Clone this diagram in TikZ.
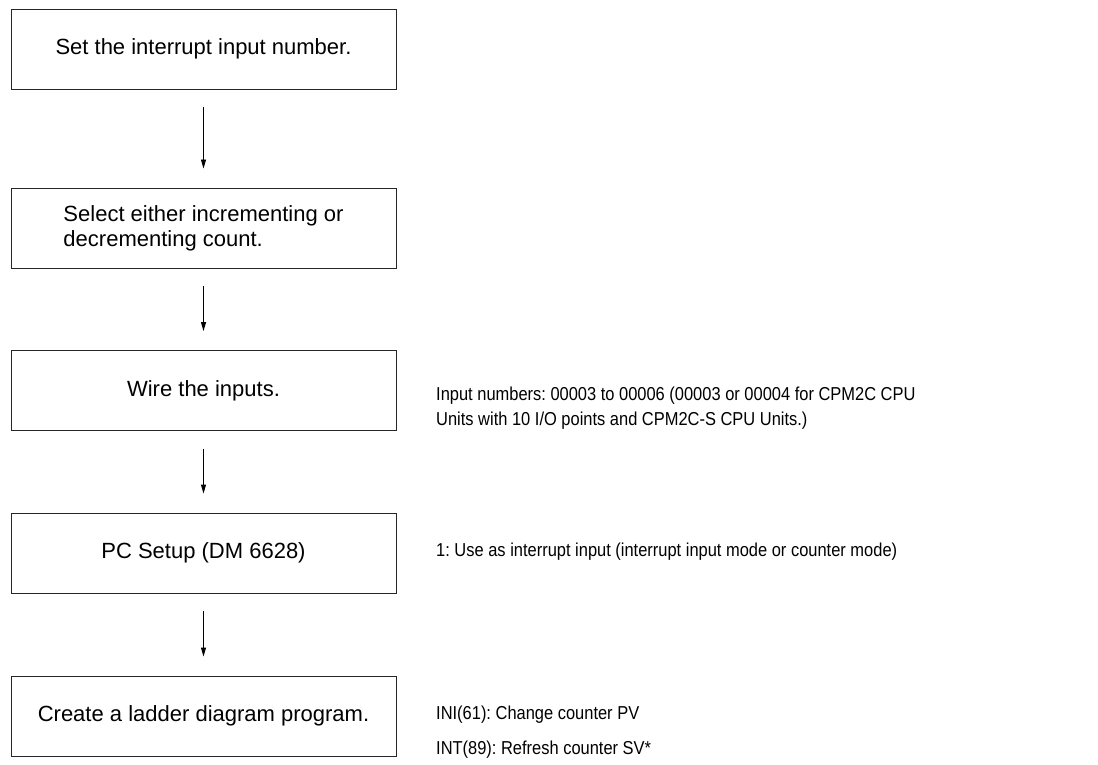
\documentclass[tikz,border=0pt]{standalone}
\usepackage{fontspec}
\setmainfont{Liberation Sans}
\newfontfamily\narrowfont[FakeStretch=0.88]{Liberation Sans}
\usetikzlibrary{arrows.meta}
\frenchspacing
\begin{document}
\begin{tikzpicture}[x=1pt,y=-1pt,
  stepbox/.style={draw=black!85, line width=0.9pt, minimum width=385pt, minimum height=80pt,
    inner sep=0pt, align=left, font=\fontsize{22}{25}\selectfont},
  note/.style={anchor=west, inner sep=0pt, align=left, font=\narrowfont\fontsize{18.7}{25}\selectfont},
  flow/.style={line width=0.9pt, -{Triangle[length=9pt,width=5pt]}, shorten <=18pt, shorten >=19pt}]
\useasboundingbox (0,0) rectangle (1098,765);
\node[stepbox] (b1) at (203.5,49) {Set the interrupt input number.};
\node[stepbox] (b2) at (203.5,228) {Select either incrementing or\\decrementing count.};
\node[stepbox] (b3) at (203.5,390.5) {Wire the inputs.};
\node[stepbox] (b4) at (203.5,553) {PC Setup (DM 6628)};
\node[stepbox] (b5) at (203.5,716) {Create a ladder diagram program.};
\draw[flow] (b1.south) -- (b2.north);
\draw[flow] (b2.south) -- (b3.north);
\draw[flow] (b3.south) -- (b4.north);
\draw[flow] (b4.south) -- (b5.north);
\node[note] (n3) at (436,408) {Input numbers: 00003 to 00006 (00003 or 00004 for CPM2C CPU\\Units with 10 I/O points and CPM2C-S CPU Units.)};
\node[note] (n4) at (436,552) {1: Use as interrupt input (interrupt input mode or counter mode)};
\node[note] (n5a) at (436,715) {INI(61): Change counter PV};
\node[note] (n5b) at (436,750) {INT(89): Refresh counter SV*};
\end{tikzpicture}
\end{document}
